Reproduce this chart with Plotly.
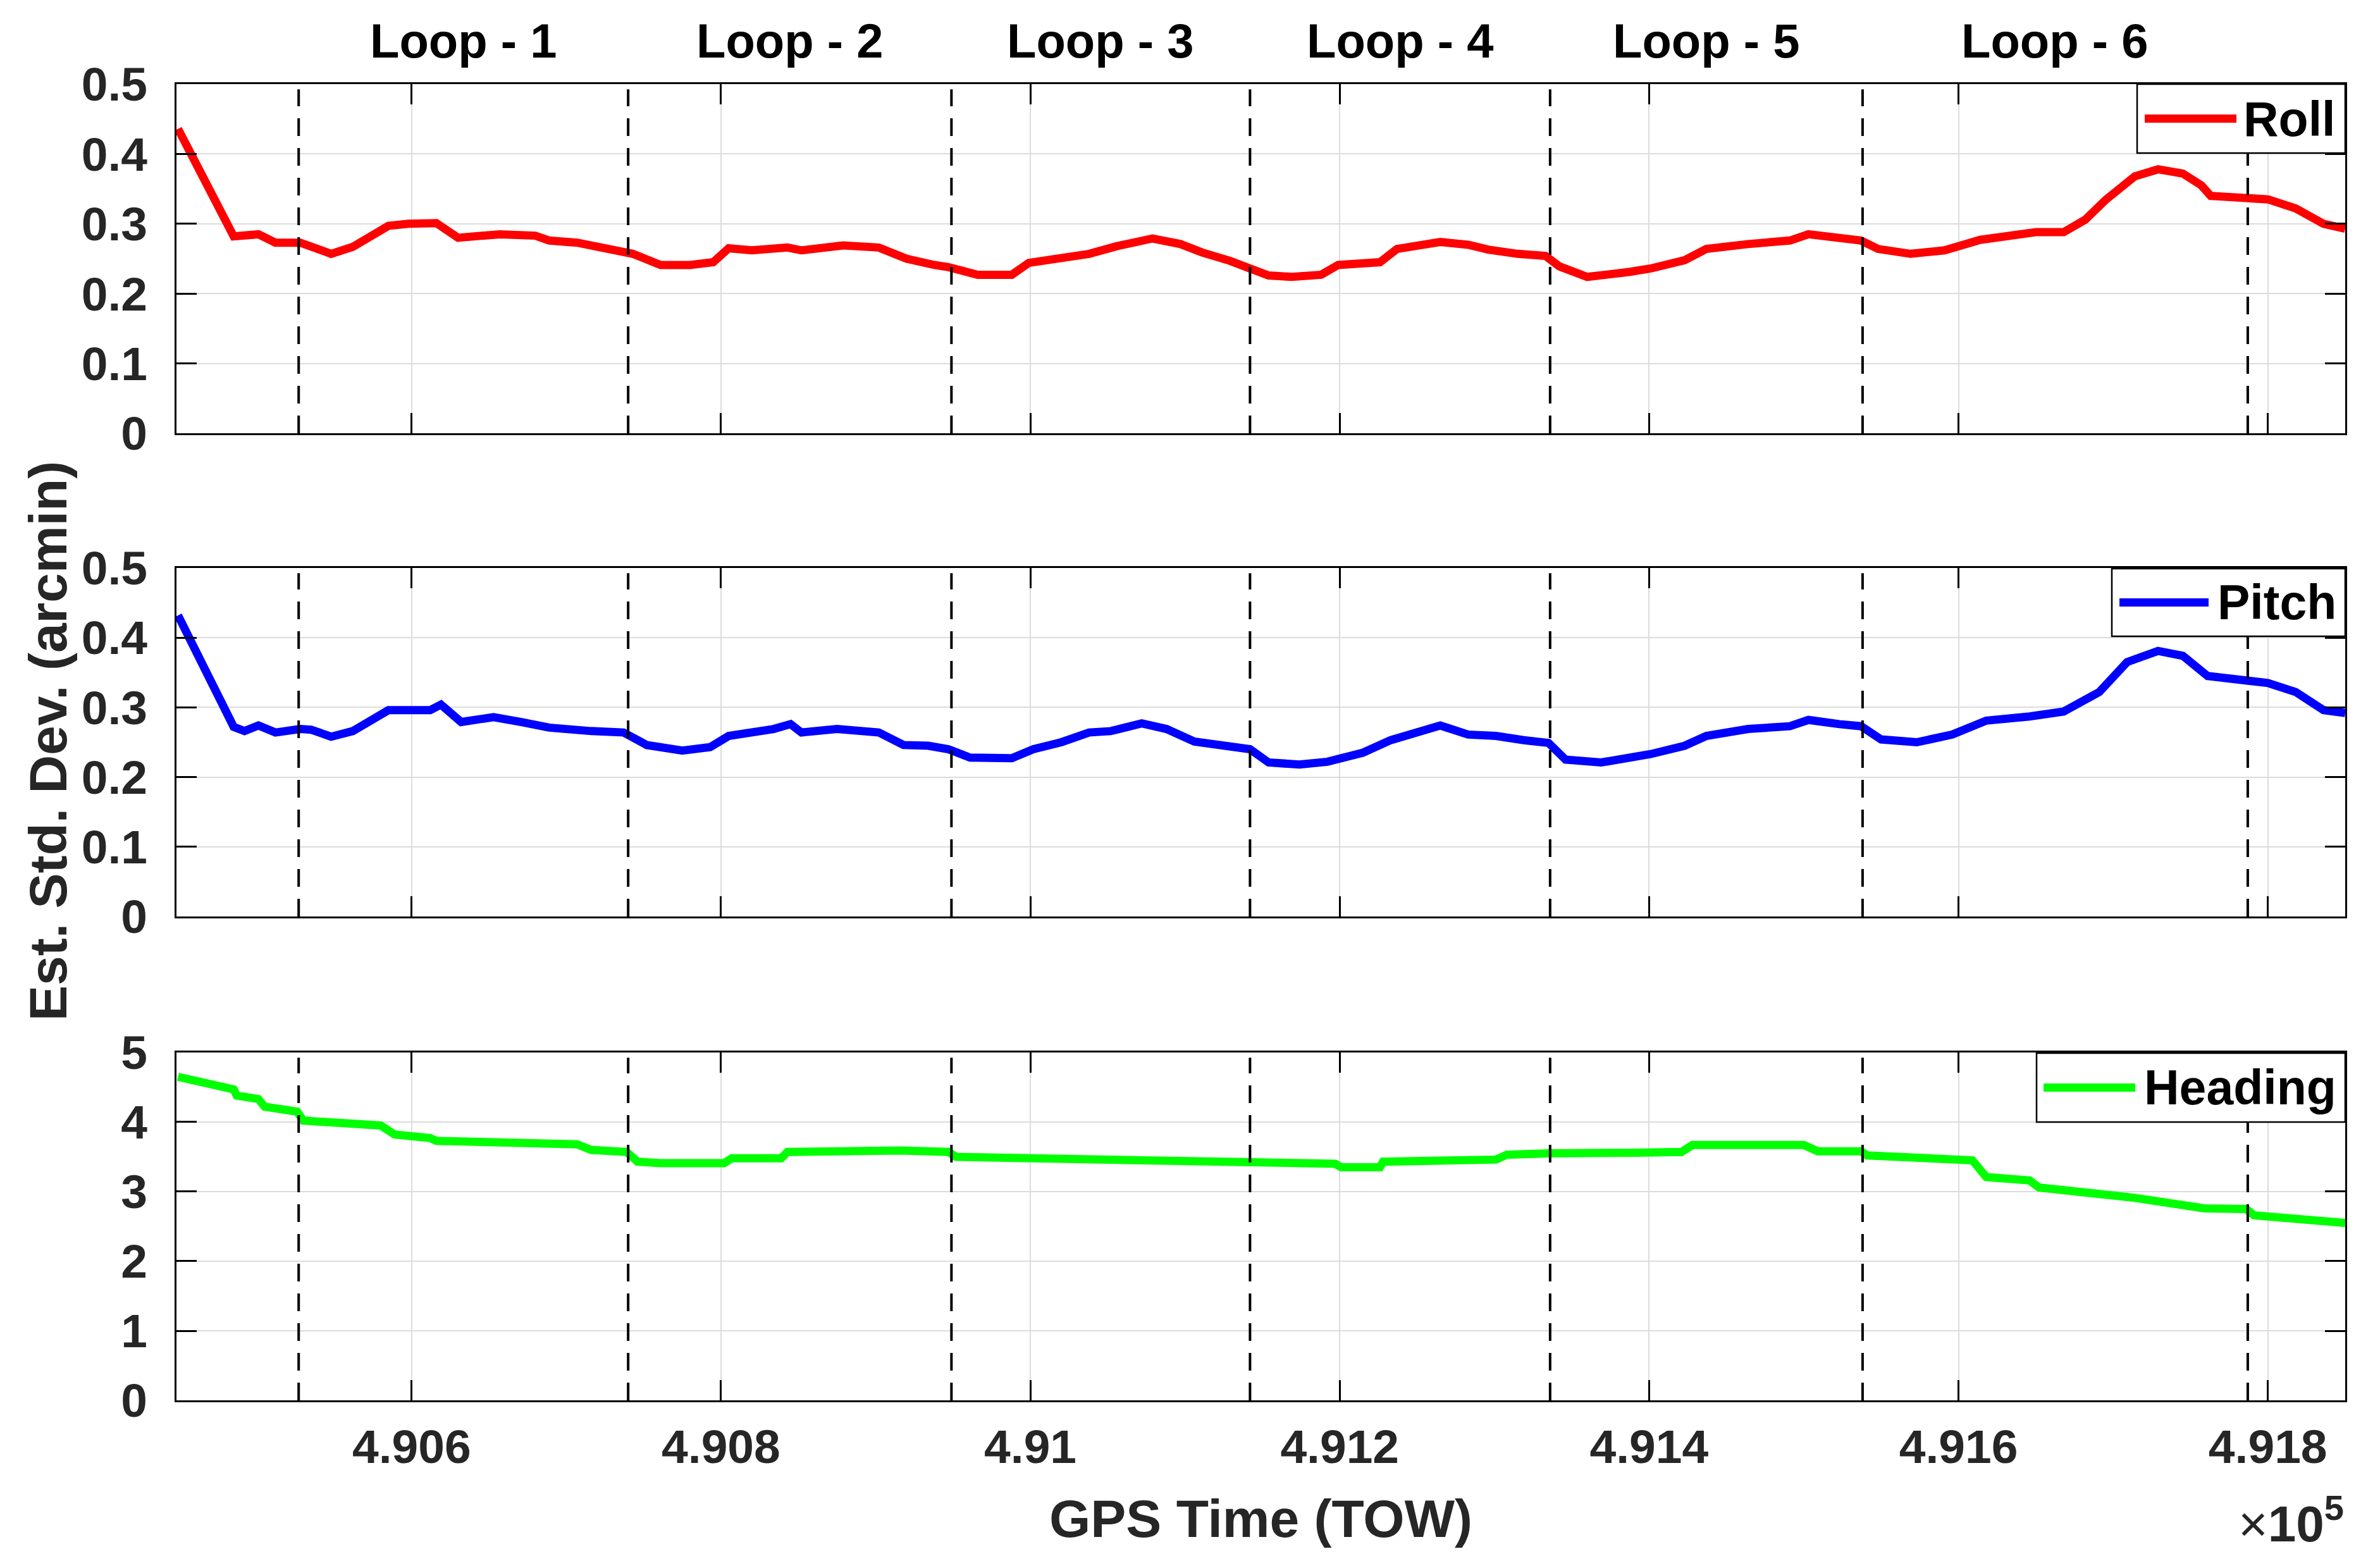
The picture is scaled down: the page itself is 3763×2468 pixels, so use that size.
import plotly.graph_objects as go

# ---------------- data ----------------
roll_t = [490449, 490485, 490501, 490512, 490528, 490548, 490562, 490585, 490598, 490616,
          490630, 490657, 490680, 490689, 490707, 490730, 490743, 490761, 490780, 490795,
          490805, 490820, 490843, 490852, 490879, 490902, 490920, 490938, 490947, 490966,
          490988, 490999, 491015, 491038, 491056, 491079, 491097, 491111, 491129, 491142,
          491154, 491169, 491188, 491199, 491226, 491237, 491265, 491283, 491296, 491315,
          491333, 491342, 491360, 491387, 491401, 491423, 491437, 491464, 491491, 491503,
          491519, 491537, 491548, 491569, 491591, 491614, 491650, 491668, 491682, 491695,
          491714, 491729, 491745, 491757, 491763, 491786, 491800, 491818, 491836, 491850]
roll_v = [0.436, 0.282, 0.285, 0.273, 0.273, 0.257, 0.267, 0.297, 0.300, 0.301,
          0.280, 0.285, 0.283, 0.276, 0.273, 0.263, 0.257, 0.241, 0.241, 0.245,
          0.265, 0.262, 0.266, 0.262, 0.269, 0.266, 0.250, 0.241, 0.238, 0.227,
          0.227, 0.244, 0.250, 0.257, 0.268, 0.279, 0.271, 0.259, 0.247, 0.236,
          0.226, 0.224, 0.227, 0.241, 0.245, 0.264, 0.274, 0.270, 0.263, 0.257,
          0.254, 0.239, 0.224, 0.231, 0.236, 0.248, 0.264, 0.271, 0.276, 0.285,
          0.280, 0.276, 0.264, 0.257, 0.262, 0.277, 0.288, 0.288, 0.306, 0.334,
          0.368, 0.378, 0.372, 0.355, 0.340, 0.337, 0.335, 0.322, 0.300, 0.293]

pitch_t = [490449, 490485, 490492, 490501, 490512, 490528, 490535, 490548, 490562, 490585,
           490612, 490619, 490632, 490653, 490671, 490689, 490716, 490737, 490752, 490775,
           490793, 490805, 490834, 490845, 490852, 490875, 490902, 490918, 490934, 490947,
           490961, 490988, 491002, 491020, 491038, 491052, 491072, 491088, 491106, 491124,
           491142, 491154, 491174, 491192, 491215, 491233, 491265, 491283, 491301, 491319,
           491335, 491346, 491369, 491401, 491423, 491437, 491464, 491491, 491503, 491523,
           491537, 491550, 491573, 491596, 491618, 491646, 491668, 491691, 491709, 491729,
           491745, 491761, 491786, 491800, 491818, 491836, 491850]
pitch_v = [0.432, 0.272, 0.266, 0.274, 0.264, 0.269, 0.268, 0.258, 0.266, 0.296,
           0.296, 0.304, 0.279, 0.286, 0.279, 0.271, 0.266, 0.264, 0.246, 0.238,
           0.243, 0.259, 0.269, 0.276, 0.264, 0.269, 0.264, 0.246, 0.245, 0.240,
           0.228, 0.227, 0.240, 0.250, 0.264, 0.266, 0.277, 0.269, 0.251, 0.245,
           0.240, 0.221, 0.218, 0.222, 0.235, 0.253, 0.274, 0.261, 0.259, 0.253,
           0.249, 0.225, 0.221, 0.233, 0.245, 0.259, 0.269, 0.273, 0.282, 0.276,
           0.273, 0.254, 0.250, 0.261, 0.281, 0.287, 0.294, 0.322, 0.365, 0.381,
           0.374, 0.345, 0.338, 0.335, 0.322, 0.296, 0.292]

heading_t = [490449, 490485, 490487, 490501, 490505, 490526, 490530, 490580, 490589, 490612,
             490616, 490707, 490716, 490739, 490746, 490761, 490802, 490807, 490839, 490843,
             490916, 490947, 490952, 491002, 491006, 491151, 491197, 491201, 491226, 491228,
             491283, 491301, 491308, 491335, 491392, 491421, 491428, 491500, 491509, 491537,
             491541, 491609, 491616, 491618, 491646, 491652, 491714, 491759, 491786, 491791,
             491850]
heading_v = [4.65, 4.47, 4.38, 4.33, 4.22, 4.15, 4.02, 3.95, 3.82, 3.77,
             3.73, 3.68, 3.60, 3.57, 3.43, 3.41, 3.41, 3.48, 3.48, 3.57,
             3.59, 3.57, 3.50, 3.48, 3.45, 3.41, 3.40, 3.35, 3.35, 3.43,
             3.45, 3.46, 3.53, 3.55, 3.56, 3.57, 3.67, 3.67, 3.58, 3.58,
             3.52, 3.45, 3.26, 3.21, 3.16, 3.06, 2.91, 2.76, 2.75, 2.66,
             2.55]

loop_bounds = [490527, 490740, 490949, 491142, 491336, 491538, 491787]
loop_labels = ["Loop - 1", "Loop - 2", "Loop - 3", "Loop - 4", "Loop - 5", "Loop - 6"]

x_range = [490448, 491850]
xtick_vals = [490600, 490800, 491000, 491200, 491400, 491600, 491800]
xtick_text = ["4.906", "4.908", "4.91", "4.912", "4.914", "4.916", "4.918"]
att_tick_vals = [0, 0.1, 0.2, 0.3, 0.4, 0.5]
att_tick_text = ["0", "0.1", "0.2", "0.3", "0.4", "0.5"]
head_tick_vals = [0, 1, 2, 3, 4, 5]
head_tick_text = ["0", "1", "2", "3", "4", "5"]

series_names = ["Roll", "Pitch", "Heading"]
series_colors = ["#ff0000", "#0000ff", "#00ff00"]

# ---------------- layout geometry ----------------
W, H = 3763, 2468
ML, MR, MT, MB = 271, 63, 125, 262
PW = W - ML - MR
PH = H - MT - MB
FONT = "Liberation Sans, Arial, Helvetica, sans-serif"
TXT = "#262626"

domains = [[0.7347, 1.0], [0.3676, 0.6324], [0.0, 0.2643]]

fig = go.Figure()
xs = ["x", "x2", "x3"]
ys = ["y", "y2", "y3"]
data = [(roll_t, roll_v), (pitch_t, pitch_v), (heading_t, heading_v)]

for i, (t, v) in enumerate(data):
    fig.add_trace(go.Scatter(x=t, y=v, mode="lines", name=series_names[i],
                             line=dict(color=series_colors[i], width=13),
                             xaxis=xs[i], yaxis=ys[i], showlegend=False))

axis_common = dict(showline=True, linecolor="black", linewidth=3, mirror="ticks",
                   ticks="inside", ticklen=32, tickwidth=3, tickcolor="black",
                   showgrid=True, gridcolor="#dcdcdc", gridwidth=2, zeroline=False,
                   tickfont=dict(family=FONT, size=75, color=TXT, weight="bold"))

layout = dict(width=W, height=H, paper_bgcolor="white", plot_bgcolor="white",
              margin=dict(l=ML, r=MR, t=MT, b=MB), showlegend=False)

for i in range(3):
    sfx = "" if i == 0 else str(i + 1)
    xa = dict(axis_common, range=x_range, tickvals=xtick_vals, ticktext=xtick_text,
              anchor=ys[i], domain=[0, 1], showticklabels=(i == 2), ticklabelstandoff=6)
    if i > 0:
        xa["matches"] = "x"
    if i < 2:
        ya = dict(axis_common, range=[0, 0.5], tickvals=att_tick_vals, ticktext=att_tick_text)
    else:
        ya = dict(axis_common, range=[0, 5], tickvals=head_tick_vals, ticktext=head_tick_text)
    ya.update(anchor=xs[i], domain=domains[i], ticklabelstandoff=28)
    layout["xaxis" + sfx] = xa
    layout["yaxis" + sfx] = ya

fig.update_layout(**layout)

shapes = []
annotations = []

# dashed loop boundaries in each panel
for i in range(3):
    for tb in loop_bounds:
        shapes.append(dict(type="line", xref=xs[i], yref=ys[i] + " domain",
                           x0=tb, x1=tb, y0=0, y1=0.985,
                           line=dict(color="black", width=4, dash="28px,19px")))

# loop labels above the top panel, centred between boundaries
for k, lab in enumerate(loop_labels):
    xc = (loop_bounds[k] + loop_bounds[k + 1]) / 2
    annotations.append(dict(text=lab, xref="x", yref="y domain", x=xc, y=1,
                            yanchor="bottom", xanchor="center", yshift=24, showarrow=False,
                            font=dict(family=FONT, size=76, color="black", weight="bold")))

# custom legends (pixel geometry of each legend box)
leg_px = [  # box x0, box top y, box bottom y, line x0, line x1, text right x, panel top, panel bottom
    (3371, 125, 234, 3383, 3528, 3686, 125, 677),
    (3331, 891, 998, 3343, 3484, 3688, 890, 1441),
    (3212, 1657, 1766, 3223, 3368, 3688, 1656, 2206),
]
for i, (bx0, bt, bb, lx0, lx1, tr, pt, pb) in enumerate(leg_px):
    ph = pb - pt
    fx = lambda px: (px - ML) / PW
    fy = lambda py: 1 - (py - pt) / ph
    shapes.append(dict(type="rect", xref=xs[i] + " domain", yref=ys[i] + " domain",
                       x0=fx(bx0), x1=1.0, y0=fy(bb), y1=fy(bt),
                       line=dict(color="black", width=2.5), fillcolor="white", layer="above"))
    yc = fy((bt + bb) / 2)
    shapes.append(dict(type="line", xref=xs[i] + " domain", yref=ys[i] + " domain",
                       x0=fx(lx0), x1=fx(lx1), y0=yc, y1=yc,
                       line=dict(color=series_colors[i], width=13), layer="above"))
    annotations.append(dict(text=series_names[i], xref=xs[i] + " domain", yref=ys[i] + " domain",
                            x=fx(tr), y=yc, xanchor="right", yanchor="middle", showarrow=False,
                            font=dict(family=FONT, size=77, color="black", weight="bold")))

# axis titles
annotations.append(dict(text="Est. Std. Dev. (arcmin)", xref="paper", yref="paper",
                        x=(68 - ML) / PW, y=(H - MB - 1164) / PH, textangle=-90,
                        xanchor="center", yanchor="middle", showarrow=False,
                        font=dict(family=FONT, size=84, color=TXT, weight="bold")))
annotations.append(dict(text="GPS Time (TOW)", xref="paper", yref="paper",
                        x=0.5, y=(H - MB - 2393) / PH, xanchor="center", yanchor="middle",
                        showarrow=False,
                        font=dict(family=FONT, size=84, color=TXT, weight="bold")))
annotations.append(dict(text="<span style='font-weight:normal'>×</span>10<sup>5</sup>",
                        xref="paper", yref="paper",
                        x=(3700 - ML) / PW, y=(H - MB - 2395) / PH, xanchor="right",
                        yanchor="middle", showarrow=False,
                        font=dict(family=FONT, size=80, color=TXT, weight="bold")))

fig.update_layout(shapes=shapes, annotations=annotations)
fig.write_html("out.html")
